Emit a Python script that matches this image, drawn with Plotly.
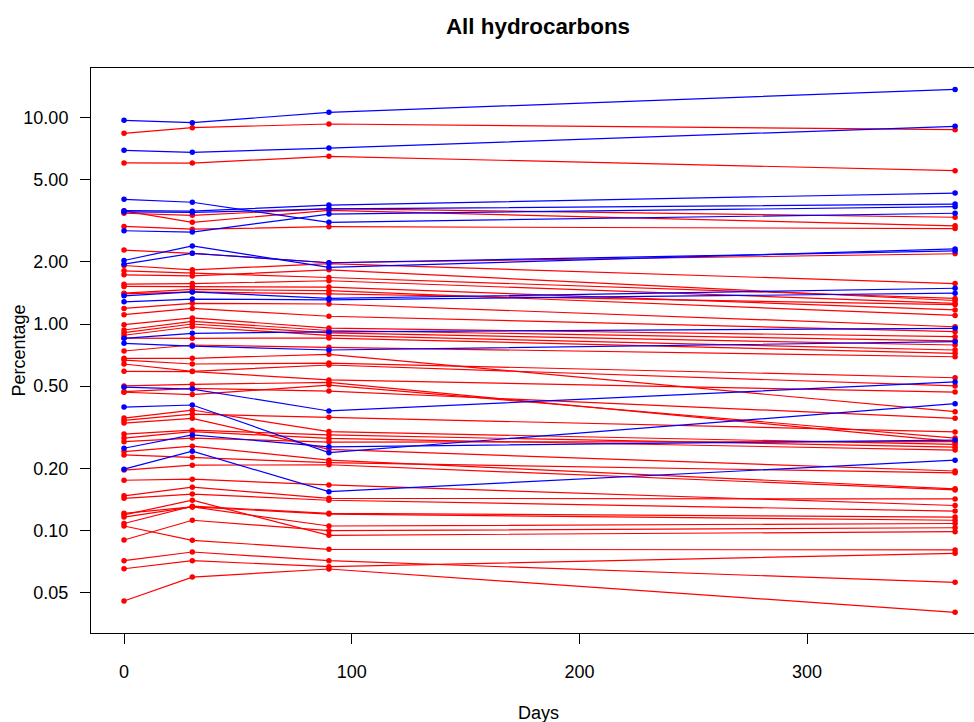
import plotly.graph_objects as go

# Sampling days
days = [0, 30, 90, 365]

# Percentages (blue series)
blue_series = [
    [9.70, 9.45, 10.6, 13.7],
    [6.94, 6.79, 7.12, 9.07],
    [4.02, 3.89, 3.11, 3.44],
    [3.54, 3.52, 3.77, 4.31],
    [2.83, 2.79, 3.41, 3.70],
    [3.49, 3.47, 3.61, 3.81],
    [2.03, 2.39, 1.88, 2.31],
    [1.95, 2.20, 1.98, 2.26],
    [1.37, 1.43, 1.33, 1.49],
    [1.28, 1.32, 1.31, 1.41],
    [0.852, 0.901, 0.915, 0.953],
    [0.806, 0.782, 0.748, 0.821],
    [0.494, 0.484, 0.379, 0.524],
    [0.396, 0.405, 0.238, 0.411],
    [0.250, 0.290, 0.254, 0.274],
    [0.198, 0.242, 0.154, 0.219],
]

# Percentages (red series)
red_series = [
    [8.39, 8.94, 9.31, 8.74],
    [6.03, 6.02, 6.49, 5.53],
    [3.53, 3.11, 3.55, 2.99],
    [3.44, 3.36, 3.62, 3.29],
    [2.97, 2.88, 2.96, 2.90],
    [2.28, 2.20, 1.98, 2.19],
    [1.92, 1.83, 1.96, 1.57],
    [1.81, 1.77, 1.68, 1.33],
    [1.73, 1.71, 1.83, 1.30],
    [1.56, 1.57, 1.62, 1.26],
    [1.52, 1.52, 1.51, 1.17],
    [1.41, 1.47, 1.45, 1.10],
    [1.40, 1.43, 1.40, 1.24],
    [1.19, 1.26, 1.25, 0.970],
    [1.11, 1.19, 1.09, 0.918],
    [0.992, 1.07, 0.956, 0.868],
    [0.935, 1.03, 0.930, 0.829],
    [0.908, 1.00, 0.905, 0.791],
    [0.882, 0.970, 0.880, 0.748],
    [0.855, 0.852, 0.855, 0.721],
    [0.740, 0.791, 0.771, 0.694],
    [0.682, 0.682, 0.713, 0.376],
    [0.669, 0.640, 0.647, 0.549],
    [0.640, 0.590, 0.633, 0.501],
    [0.590, 0.588, 0.536, 0.468],
    [0.501, 0.510, 0.521, 0.269],
    [0.470, 0.488, 0.473, 0.349],
    [0.467, 0.455, 0.506, 0.280],
    [0.350, 0.383, 0.301, 0.261],
    [0.341, 0.366, 0.353, 0.300],
    [0.331, 0.349, 0.247, 0.194],
    [0.293, 0.306, 0.290, 0.253],
    [0.280, 0.301, 0.279, 0.245],
    [0.269, 0.280, 0.268, 0.269],
    [0.241, 0.256, 0.219, 0.159],
    [0.232, 0.226, 0.213, 0.190],
    [0.196, 0.207, 0.208, 0.157],
    [0.175, 0.177, 0.166, 0.132],
    [0.147, 0.162, 0.143, 0.142],
    [0.143, 0.150, 0.140, 0.124],
    [0.121, 0.130, 0.120, 0.112],
    [0.119, 0.140, 0.0947, 0.0986],
    [0.116, 0.130, 0.105, 0.108],
    [0.108, 0.131, 0.121, 0.116],
    [0.105, 0.0895, 0.0810, 0.0804],
    [0.0898, 0.112, 0.0997, 0.103],
    [0.0713, 0.0786, 0.0713, 0.0560],
    [0.0652, 0.0713, 0.0667, 0.0774],
    [0.0455, 0.0594, 0.0650, 0.0401],
]

y_ticks = [0.05, 0.10, 0.20, 0.50, 1.00, 2.00, 5.00, 10.00]
y_tick_labels = ["0.05", "0.10", "0.20", "0.50", "1.00", "2.00", "5.00", "10.00"]
x_ticks = [0, 100, 200, 300]

RED = "#FF0000"
BLUE = "#0000FF"
FONT = "Liberation Sans, Arial, sans-serif"

fig = go.Figure()
for s in red_series:
    fig.add_trace(go.Scatter(
        x=days, y=s, mode="lines+markers",
        line=dict(color=RED, width=1.2),
        marker=dict(color=RED, size=5.5, symbol="circle"),
        hoverinfo="x+y",
    ))
for s in blue_series:
    fig.add_trace(go.Scatter(
        x=days, y=s, mode="lines+markers",
        line=dict(color=BLUE, width=1.2),
        marker=dict(color=BLUE, size=5.5, symbol="circle"),
        hoverinfo="x+y",
    ))

fig.update_layout(
    width=974, height=722,
    margin=dict(l=91, r=0, t=68, b=89),
    paper_bgcolor="white", plot_bgcolor="white",
    showlegend=False,
    font=dict(family=FONT, size=18, color="black"),
    title=dict(
        text="<b>All hydrocarbons</b>",
        x=538 / 974, xanchor="center", xref="container",
        y=1 - 26 / 722, yanchor="middle", yref="container",
        font=dict(family=FONT, size=22.4, color="black"),
    ),
    xaxis=dict(
        range=[-14.5, 373.3],
        tickvals=x_ticks,
        ticks="outside", ticklen=10, tickwidth=1, tickcolor="black",
        showline=True, linecolor="black", linewidth=1, mirror=True,
        showgrid=False, zeroline=False,
        tickfont=dict(family=FONT, size=18),
        ticklabelstandoff=12,
    ),
    yaxis=dict(
        type="log",
        range=[-1.4971, 1.2403],
        tickvals=y_ticks, ticktext=y_tick_labels,
        ticks="outside", ticklen=10, tickwidth=1, tickcolor="black",
        showline=True, linecolor="black", linewidth=1, mirror=False,
        showgrid=False, zeroline=False,
        tickfont=dict(family=FONT, size=18),
        ticklabelstandoff=8,
    ),
    annotations=[
        dict(text="Days", xref="paper", yref="paper",
             x=(538 - 91) / 883, y=(633 - 713) / 565,
             xanchor="center", yanchor="middle", showarrow=False,
             font=dict(family=FONT, size=18)),
        dict(text="Percentage", xref="paper", yref="paper",
             x=(18 - 91) / 883, y=0.5, textangle=-90,
             xanchor="center", yanchor="middle", showarrow=False,
             font=dict(family=FONT, size=18)),
    ],
)

fig.write_html("out.html")
